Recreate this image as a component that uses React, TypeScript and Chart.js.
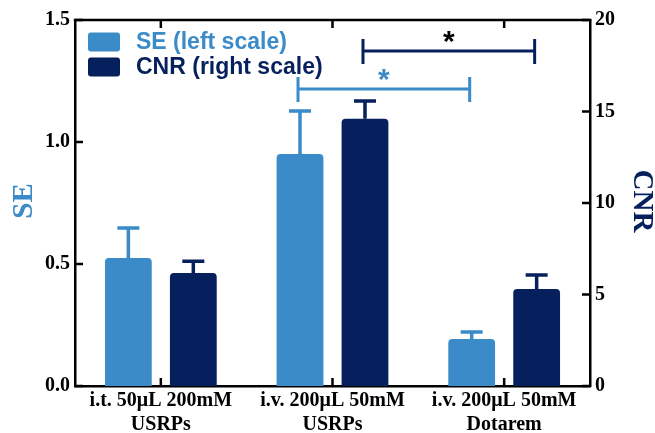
import React, { useEffect, useRef } from "react";
import { Chart, registerables } from "chart.js";

Chart.register(...registerables);

const categories: string[][] = [
  ["i.t. 50μL 200mM", "USRPs"],
  ["i.v. 200μL 50mM", "USRPs"],
  ["i.v. 200μL 50mM", "Dotarem"],
];
const seValues = [0.525, 0.951, 0.193];
const seErrors = [0.123, 0.176, 0.028];
const cnrValues = [6.17, 14.6, 5.3];
const cnrErrors = [0.65, 0.97, 0.77];
const seTicks = [0, 0.5, 1.0, 1.5];
const cnrTicks = [0, 5, 10, 15, 20];
const seBracket = { from: 1, to: 2, level: 1.217, label: "*" };
const cnrBracket = { from: 1, to: 2, level: 18.3, label: "*" };
const legendLabels = ["SE (left scale)", "CNR (right scale)"];

const SE_COLOR = "#3b8bc8";
const CNR_COLOR = "#05205c";
const SERIF = '"Liberation Serif", "Times New Roman", serif';
const SANS = '"Liberation Sans", Arial, sans-serif';

const decorPlugin = {
  id: "decor",
  afterDatasetsDraw(chart: any) {
    const ctx = chart.ctx;
    const ca = chart.chartArea;
    const ySE = chart.scales.ySE;
    const yCNR = chart.scales.yCNR;
    const x = chart.scales.x;
    const errs = [seErrors, cnrErrors];
    const vals = [seValues, cnrValues];
    const cols = [SE_COLOR, CNR_COLOR];
    const scales = [ySE, yCNR];
    ctx.save();
    for (let d = 0; d < 2; d++) {
      const meta = chart.getDatasetMeta(d);
      meta.data.forEach((bar: any, i: number) => {
        const yTop = scales[d].getPixelForValue(vals[d][i] + errs[d][i]);
        ctx.strokeStyle = cols[d];
        ctx.lineWidth = 3.5;
        ctx.beginPath();
        ctx.moveTo(bar.x, bar.y);
        ctx.lineTo(bar.x, yTop);
        ctx.moveTo(bar.x - 11, yTop);
        ctx.lineTo(bar.x + 11, yTop);
        ctx.stroke();
      });
    }
    ctx.strokeStyle = "#000";
    ctx.lineWidth = 2.5;
    ctx.beginPath();
    ctx.moveTo(ca.left - 1.25, ca.top);
    ctx.lineTo(ca.right + 1.25, ca.top);
    ctx.stroke();
    ctx.beginPath();
    seTicks.forEach((v) => {
      const y = ySE.getPixelForValue(v);
      ctx.moveTo(ca.left, y);
      ctx.lineTo(ca.left + 8, y);
    });
    cnrTicks.forEach((v) => {
      const y = yCNR.getPixelForValue(v);
      ctx.moveTo(ca.right, y);
      ctx.lineTo(ca.right - 8, y);
    });
    categories.forEach((_, i) => {
      const px = x.getPixelForValue(i);
      ctx.moveTo(px, ca.top);
      ctx.lineTo(px, ca.top + 8);
      ctx.moveTo(px, ca.bottom);
      ctx.lineTo(px, ca.bottom - 8);
    });
    ctx.stroke();
    const drawBracket = (b: any, d: number, scale: any, lineCol: string, starCol: string) => {
      const meta = chart.getDatasetMeta(d);
      const x1 = meta.data[b.from].x - 2;
      const x2 = meta.data[b.to].x - 2;
      const y = scale.getPixelForValue(b.level);
      ctx.strokeStyle = lineCol;
      ctx.lineWidth = 3;
      ctx.beginPath();
      ctx.moveTo(x1, y);
      ctx.lineTo(x2, y);
      ctx.moveTo(x1, y - 12);
      ctx.lineTo(x1, y + 13);
      ctx.moveTo(x2, y - 12);
      ctx.lineTo(x2, y + 13);
      ctx.stroke();
      ctx.fillStyle = starCol;
      ctx.font = "bold 30px " + SANS;
      ctx.textAlign = "center";
      ctx.textBaseline = "middle";
      ctx.fillText(b.label, (x1 + x2) / 2, y - 8);
    };
    drawBracket(seBracket, 0, ySE, SE_COLOR, SE_COLOR);
    drawBracket(cnrBracket, 1, yCNR, CNR_COLOR, "#000");
    const lx = ca.left + 13;
    legendLabels.forEach((t, i) => {
      const cy = ca.top + 22 + i * 25;
      ctx.fillStyle = cols[i];
      ctx.beginPath();
      (ctx as any).roundRect(lx, cy - 9.5, 32, 19, 3);
      ctx.fill();
      ctx.font = "bold 23px " + SANS;
      ctx.textAlign = "left";
      ctx.textBaseline = "middle";
      ctx.fillText(t, lx + 48, cy + 1);
    });
    const midY = (ca.top + ca.bottom) / 2 - 2;
    ctx.font = "bold 29px " + SERIF;
    ctx.textAlign = "center";
    ctx.textBaseline = "middle";
    ctx.fillStyle = SE_COLOR;
    ctx.save();
    ctx.translate(25, midY);
    ctx.rotate(-Math.PI / 2);
    ctx.fillText("SE", 0, 0);
    ctx.restore();
    ctx.fillStyle = CNR_COLOR;
    ctx.save();
    ctx.translate(641, midY);
    ctx.rotate(Math.PI / 2);
    ctx.fillText("CNR", 0, 0);
    ctx.restore();
    ctx.restore();
  },
};

export default function App() {
  const ref = useRef<HTMLCanvasElement | null>(null);
  useEffect(() => {
    document.body.style.margin = "0";
    if (!ref.current) return;
    const tickFont = { family: SERIF, size: 20, weight: "bold" as const };
    const chart = new Chart(ref.current, {
      type: "bar",
      data: {
        labels: categories,
        datasets: [
          {
            label: legendLabels[0],
            data: seValues,
            backgroundColor: SE_COLOR,
            yAxisID: "ySE",
            borderRadius: { topLeft: 4, topRight: 4, bottomLeft: 0, bottomRight: 0 },
            borderSkipped: false,
          },
          {
            label: legendLabels[1],
            data: cnrValues,
            backgroundColor: CNR_COLOR,
            yAxisID: "yCNR",
            borderRadius: { topLeft: 4, topRight: 4, bottomLeft: 0, bottomRight: 0 },
            borderSkipped: false,
          },
        ],
      },
      options: {
        responsive: false,
        animation: false,
        categoryPercentage: 0.757,
        barPercentage: 0.72,
        layout: { padding: { top: 20, left: 0, right: 0, bottom: 0 } },
        plugins: { legend: { display: false }, tooltip: { enabled: false } },
        scales: {
          x: {
            grid: { display: false, drawTicks: false },
            border: { display: true, color: "#000", width: 2.5 },
            ticks: { font: tickFont, color: "#000", padding: 3, maxRotation: 0 },
            afterFit: (s: any) => {
              s.height = 47;
            },
          },
          ySE: {
            type: "linear",
            position: "left",
            min: 0,
            max: 1.5,
            grid: { display: false, drawTicks: false },
            border: { display: true, color: "#000", width: 2.5 },
            ticks: {
              stepSize: 0.5,
              font: tickFont,
              color: "#000",
              padding: 5,
              callback: (v: any) => Number(v).toFixed(1),
            },
            afterFit: (s: any) => {
              s.width = 75;
            },
          },
          yCNR: {
            type: "linear",
            position: "right",
            min: 0,
            max: 20,
            grid: { display: false, drawTicks: false },
            border: { display: true, color: "#000", width: 2.5 },
            ticks: { stepSize: 5, font: tickFont, color: "#000", padding: 5 },
            afterFit: (s: any) => {
              s.width = 65;
            },
          },
        },
      } as any,
      plugins: [decorPlugin],
    });
    return () => chart.destroy();
  }, []);
  return (
    <div style={{ width: 655, height: 433 }}>
      <canvas ref={ref} width={655} height={433} />
    </div>
  );
}
